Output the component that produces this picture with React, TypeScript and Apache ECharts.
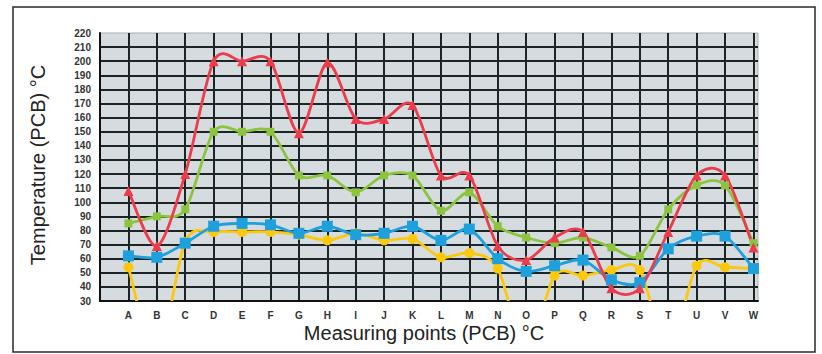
import React, { useEffect, useRef } from "react";
import * as echarts from "echarts";

const categories = ["A","B","C","D","E","F","G","H","I","J","K","L","M","N","O","P","Q","R","S","T","U","V","W"];
const redValues = [108, 69, 120, 200, 200, 200, 149, 199, 159, 159, 169, 119, 119, 69, 59, 75, 79, 39, 39, 79, 119, 119, 68];
const greenValues = [85, 90, 95, 150, 150, 150, 119, 119, 107, 119, 119, 94, 107, 83, 75, 71, 75, 68, 62, 95, 112, 112, 71];
const blueValues = [62, 61, 71, 83, 85, 84, 78, 83, 77, 78, 83, 73, 81, 60, 51, 55, 59, 45, 43, 67, 76, 76, 53];
const yellowValues = [54, -10, 72, 79, 79, 79, 77, 73, 78, 73, 74, 61, 64, 53, -5, 48, 48, 52, 52, -6, 55, 54, 53];
const yTicks = { min: 30, max: 220, step: 10 };

const toPoints = (vals: number[]) => vals.map((v, i) => [i + 1, v]);

const TENSION = 0.15;

export default function App() {
  const ref = useRef<HTMLDivElement>(null);
  useEffect(() => {
    if (!ref.current) return;
    const chart = echarts.init(ref.current, undefined, { renderer: "svg" });
    const gridLine = "#1b2525";

    const curveSeries = (name: string, vals: number[], color: string) => ({
      name: name + "-curve",
      type: "custom",
      data: toPoints(vals),
      clip: true,
      silent: true,
      renderItem: (params: any, api: any) => {
        const n = params.dataInsideLength;
        const i = params.dataIndexInside;
        if (i >= n - 1) return null;
        const pt = (j: number) => {
          const k = Math.max(0, Math.min(n - 1, j));
          return api.coord([api.value(0, k), api.value(1, k)]);
        };
        const p0 = pt(i - 1);
        const p1 = pt(i);
        const p2 = pt(i + 1);
        const p3 = pt(i + 2);
        const c1x = p1[0] + (p2[0] - p0[0]) * TENSION;
        const c1y = p1[1] + (p2[1] - p0[1]) * TENSION;
        const c2x = p2[0] - (p3[0] - p1[0]) * TENSION;
        const c2y = p2[1] - (p3[1] - p1[1]) * TENSION;
        const cs = params.coordSys;
        return {
          type: "group",
          clipPath: { type: "rect", shape: { x: cs.x, y: cs.y, width: cs.width, height: cs.height } },
          children: [
            {
              type: "path",
              shape: {
                pathData: `M${p1[0]},${p1[1]} C${c1x},${c1y} ${c2x},${c2y} ${p2[0]},${p2[1]}`,
              },
              style: { fill: "none", stroke: color, lineWidth: 2.8, lineCap: "round" },
            },
          ],
        };
      },
    });

    const markerSeries = (name: string, vals: number[], color: string, symbol: string, size: number) => ({
      name,
      type: "line",
      data: toPoints(vals),
      clip: true,
      symbol,
      symbolSize: size,
      showAllSymbol: true,
      lineStyle: { width: 0, opacity: 0 },
      itemStyle: { color },
    });

    chart.setOption({
      animation: false,
      backgroundColor: "#ffffff",
      grid: {
        left: 100,
        top: 33,
        right: 64,
        bottom: 53,
        show: true,
        backgroundColor: "#d6dbe0",
        borderColor: "#a9aeb3",
        borderWidth: 1,
      },
      xAxis: {
        type: "value",
        min: 0,
        max: 23.16,
        interval: 1,
        axisLine: { show: true, lineStyle: { color: "#111", width: 2 } },
        axisTick: { show: false },
        axisLabel: {
          margin: 9,
          fontSize: 10,
          fontWeight: "bold",
          color: "#333",
          fontFamily: "Liberation Sans",
          formatter: (v: number) => (Number.isInteger(v) && v >= 1 && v <= categories.length ? categories[v - 1] : ""),
        },
        splitLine: { show: true, showMinLine: false, showMaxLine: false, lineStyle: { color: gridLine, width: 2 } },
      },
      yAxis: {
        type: "value",
        min: yTicks.min,
        max: yTicks.max,
        interval: yTicks.step,
        axisLine: { show: true, lineStyle: { color: "#111", width: 2 } },
        axisTick: { show: false },
        axisLabel: {
          margin: 9,
          fontSize: 10,
          fontWeight: "bold",
          color: "#333",
          fontFamily: "Liberation Sans Narrow, Liberation Sans",
        },
        splitLine: { show: true, showMinLine: false, showMaxLine: false, lineStyle: { color: gridLine, width: 2 } },
      },
      graphic: [
        {
          type: "rect",
          shape: { x: 13, y: 7, width: 802, height: 345 },
          style: { fill: "none", stroke: "#2a2a2a", lineWidth: 1.5 },
          z: -1,
        },
        {
          type: "text",
          x: 38,
          y: 165,
          rotation: Math.PI / 2,
          style: {
            text: "Temperature (PCB) °C",
            fontSize: 20,
            fontFamily: "Liberation Sans",
            fill: "#222",
            textAlign: "center",
            textVerticalAlign: "middle",
          },
        },
        {
          type: "text",
          x: 424,
          y: 333,
          style: {
            text: "Measuring points (PCB) °C",
            fontSize: 20,
            fontFamily: "Liberation Sans",
            fill: "#222",
            textAlign: "center",
            textVerticalAlign: "middle",
          },
        },
      ],
      series: [
        curveSeries("yellow", yellowValues, "#fcc80a"),
        markerSeries("yellow", yellowValues, "#fcc80a", "circle", 10),
        curveSeries("green", greenValues, "#8cc43f"),
        markerSeries("green", greenValues, "#8cc43f", "rect", 8),
        curveSeries("blue", blueValues, "#1ea0dc"),
        markerSeries("blue", blueValues, "#1ea0dc", "rect", 11),
        curveSeries("red", redValues, "#ec3c4b"),
        markerSeries("red", redValues, "#ec3c4b", "triangle", 10),
      ],
    });
    return () => chart.dispose();
  }, []);
  return <div ref={ref} style={{ width: 822, height: 354, position: "absolute", left: 0, top: 0 }} />;
}
